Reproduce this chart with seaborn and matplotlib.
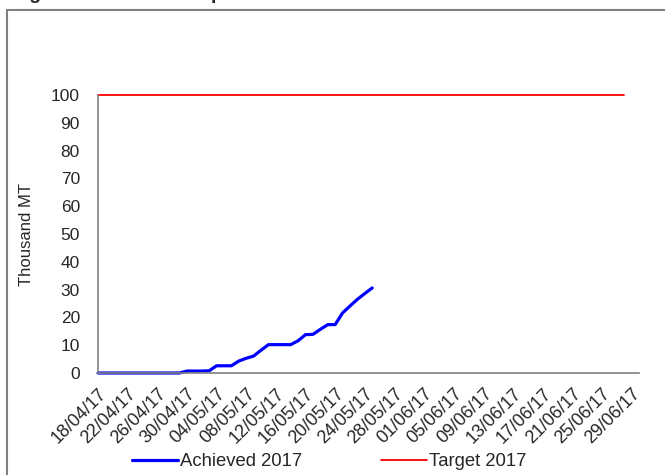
"""Cumulative procurement vs target, 2017 season."""
import matplotlib
matplotlib.use("Agg")
import matplotlib.pyplot as plt
from matplotlib.patches import Rectangle
import numpy as np
import pandas as pd
import seaborn as sns

# daily categories on the x axis
dates = pd.date_range("2017-04-18", "2017-06-30").strftime("%d/%m/%y").tolist()

# cumulative achieved (thousand MT), 18/04 -> 25/05
achieved = [0, 0, 0, 0, 0, 0, 0, 0, 0, 0, 0, 0,
            0.7, 0.7, 0.7, 0.8, 2.6, 2.6, 2.6, 4.3, 5.3, 6.1, 8.2, 10.2,
            10.2, 10.2, 10.2, 11.6, 13.8, 13.9, 15.7, 17.4, 17.4, 21.6,
            24.1, 26.5, 28.6, 30.6]
# target (thousand MT), 18/04 -> 28/06
target = [100] * 72

series_names = ["Achieved 2017", "Target 2017"]
colors = {"Achieved 2017": "#0000FF", "Target 2017": "#FF0000"}

df_ach = pd.DataFrame({"pos": np.arange(len(achieved)), "value": achieved})
df_tgt = pd.DataFrame({"pos": np.arange(len(target)), "value": target})

sns.set_style("white")
plt.rcParams["font.family"] = ["Liberation Sans", "DejaVu Sans"]

fig = plt.figure(figsize=(6.65, 4.75), dpi=100)
ax = fig.add_axes([98 / 665, 102 / 475, 541 / 665, 278 / 475])

sns.lineplot(data=df_ach, x="pos", y="value", color=colors["Achieved 2017"],
             linewidth=2.3, label=series_names[0], ax=ax, clip_on=False)
sns.lineplot(data=df_tgt, x="pos", y="value", color=colors["Target 2017"],
             linewidth=1.3, label=series_names[1], ax=ax, clip_on=False)

ax.set_xlim(0, len(dates) - 1)
ax.set_ylim(0, 100)
ax.set_yticks(range(0, 101, 10))
ax.set_xticks(range(0, len(dates), 4))
ax.set_xticklabels(dates[::4], rotation=45, ha="right", rotation_mode="anchor")
ax.tick_params(axis="x", length=0, pad=9, labelsize=13)
ax.tick_params(axis="y", direction="in", length=5, width=1, color="#808080",
               pad=13, labelsize=12.5)
ax.set_xlabel("")
ax.set_ylabel("Thousand MT", fontsize=12, labelpad=12)

for side in ("top", "right"):
    ax.spines[side].set_visible(False)
for side in ("left", "bottom"):
    ax.spines[side].set_color("#808080")
    ax.spines[side].set_linewidth(1.2)

handles, labels = ax.get_legend_handles_labels()
ax.get_legend().remove()
fig.legend(handles, labels, loc="center", bbox_to_anchor=(329 / 665, 1 - 462 / 475),
           ncol=2, frameon=False, fontsize=13.3, handlelength=2.5,
           handletextpad=0.1, columnspacing=4.3)

# outer chart border and the clipped caption above it
fig.add_artist(Rectangle((7 / 665, -0.1), 1.2, 1.1 - 10 / 475, transform=fig.transFigure,
                         fill=False, edgecolor="#808080", linewidth=1.5))
fig.text(12 / 665, 1 + 1 / 475, "Figure 3: Rabi Wheat procurement", fontsize=14,
         fontweight="bold", va="baseline", ha="left")

fig.savefig("out.png", dpi=100)
plt.close(fig)
